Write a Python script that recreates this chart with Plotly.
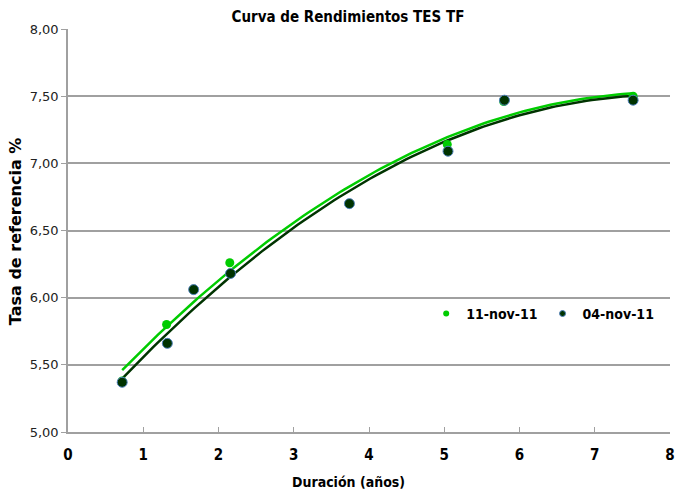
import numpy as np
import plotly.graph_objects as go

dur_11 = [0.72, 1.31, 1.67, 2.15, 3.74, 5.04, 5.79, 7.51]
tasa_11 = [5.38, 5.80, 6.06, 6.26, 6.70, 7.14, 7.46, 7.50]
dur_04 = [0.72, 1.32, 1.67, 2.16, 3.74, 5.05, 5.80, 7.51]
tasa_04 = [5.37, 5.66, 6.06, 6.18, 6.70, 7.09, 7.47, 7.47]

green = "#00CC00"
dark = "#003300"
FC = "DejaVu Sans Condensed, DejaVu Sans"

fig = go.Figure()

def trend(x, y):
    c = np.polyfit(x, y, 2)
    xs = np.linspace(min(x), max(x), 100)
    return xs, np.polyval(c, xs)

xs, ys = trend(dur_11, tasa_11)
fig.add_trace(go.Scatter(x=xs, y=ys, mode="lines", line=dict(color=green, width=2.5),
                         showlegend=False, hoverinfo="skip"))
xs, ys = trend(dur_04, tasa_04)
fig.add_trace(go.Scatter(x=xs, y=ys, mode="lines", line=dict(color=dark, width=2.5),
                         showlegend=False, hoverinfo="skip"))

fig.add_trace(go.Scatter(x=dur_11, y=tasa_11, mode="markers", name="11-nov-11",
                         showlegend=False,
                         marker=dict(color=green, size=9, symbol="circle")))
fig.add_trace(go.Scatter(x=dur_04, y=tasa_04, mode="markers", name="04-nov-11",
                         showlegend=False,
                         marker=dict(color=dark, size=10, symbol="circle",
                                     line=dict(color="#4F81BD", width=1))))
# legend entries (small markers as in the reference)
fig.add_trace(go.Scatter(x=[None], y=[None], mode="markers", name="11-nov-11",
                         marker=dict(color=green, size=6)))
fig.add_trace(go.Scatter(x=[None], y=[None], mode="markers", name="04-nov-11",
                         marker=dict(color=dark, size=6, line=dict(color="#4F81BD", width=1))))

fig.update_layout(
    width=678, height=494,
    margin=dict(l=68, r=3, t=29, b=62),
    paper_bgcolor="white", plot_bgcolor="white",
    separators=",.",
    title=dict(text="<b>Curva de Rendimientos TES TF</b>", xref="paper", x=0.465,
               xanchor="center", y=0.966, yanchor="middle",
               font=dict(family=FC, size=15, color="black")),
    legend=dict(orientation="h", x=0.595, y=0.293, xanchor="left", yanchor="middle",
                bgcolor="rgba(0,0,0,0)",
                font=dict(family=FC, size=14, color="black", weight="bold"),
                itemwidth=30, traceorder="normal"),
    xaxis=dict(range=[0, 8], dtick=1, tickformat="d", showgrid=False,
               showline=True, linecolor="#a0a0a0", linewidth=1.5,
               ticks="inside", ticklen=5, tickcolor="#a0a0a0",
               ticklabeloverflow="allow", ticklabelstandoff=8,
               tickprefix="<b>", ticksuffix="</b>",
               tickfont=dict(family=FC, size=15, color="black"),
               zeroline=False),
    yaxis=dict(range=[5, 8], dtick=0.5, tickformat=".2f", showgrid=True,
               gridcolor="#a0a0a0", gridwidth=1.5,
               showline=True, linecolor="#a0a0a0", linewidth=1.5,
               ticks="outside", ticklen=5, tickcolor="#a0a0a0",
               tickfont=dict(family="DejaVu Sans", size=13, color="#222"),
               zeroline=False),
    annotations=[
        dict(text="<b>Duración (años)</b>", xref="paper", yref="paper",
             x=0.466, y=-0.124, xanchor="center", yanchor="middle",
             showarrow=False, font=dict(family=FC, size=14, color="black")),
        dict(text="<b>Tasa de referencia %</b>", xref="paper", yref="paper",
             x=-0.088, y=0.496, xanchor="center", yanchor="middle", textangle=-90,
             showarrow=False, font=dict(family="DejaVu Sans", size=16, color="black")),
    ],
)

fig.write_html("out.html")
